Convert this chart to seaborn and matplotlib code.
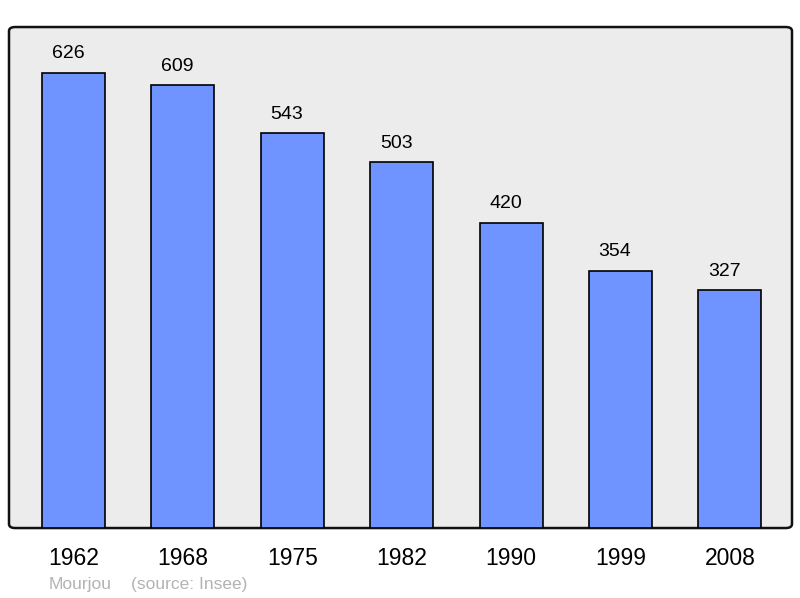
import matplotlib
matplotlib.use("Agg")
import matplotlib.pyplot as plt
from matplotlib.patches import FancyBboxPatch
import seaborn as sns

# population data
years = ["1962", "1968", "1975", "1982", "1990", "1999", "2008"]
population = [626, 609, 543, 503, 420, 354, 327]

sns.set_style("white")
plt.rcParams['font.family'] = ['Liberation Sans', 'DejaVu Sans']
plt.rcParams['text.color'] = 'black'
plt.rcParams['xtick.color'] = 'black'

fig = plt.figure(figsize=(8, 5.98), dpi=100)
ax = fig.add_axes([0.01125, 0.117, 0.97875, 0.8378])
ax.set_facecolor("none")

# rounded grey frame behind the bars
frame = FancyBboxPatch((0, 0), 1, 1, boxstyle="round,pad=0,rounding_size=0.008",
                       transform=ax.transAxes, facecolor="#ececec",
                       edgecolor="#111111", linewidth=1.8, zorder=0, clip_on=False)
ax.add_patch(frame)

sns.barplot(x=years, y=population, color="#7094ff", saturation=1,
            width=0.576, edgecolor="black", linewidth=1.2, ax=ax, zorder=2)

for p, v in zip(ax.patches[1:], population):
    ax.annotate(str(v), (p.get_x() + p.get_width() / 2, p.get_height()),
                xytext=(-4, 7.5), textcoords="offset points",
                ha="center", va="bottom", fontsize=14)

ax.set_xlim(-0.59, 6.567)
ax.set_ylim(0, 689)
ax.set_yticks([])
ax.tick_params(axis="x", length=0, pad=14, labelsize=16.5)
ax.set_xlabel("")
ax.set_ylabel("")
for s in ax.spines.values():
    s.set_visible(False)

fig.text(49 / 800, 1 - 584 / 598, "Mourjou", color="#b3b3b3",
         fontsize=12.5, va="center", ha="left")
fig.text(131 / 800, 1 - 584 / 598, "(source: Insee)", color="#b3b3b3",
         fontsize=12.5, va="center", ha="left")

fig.savefig("out.png", dpi=100, facecolor="white")
